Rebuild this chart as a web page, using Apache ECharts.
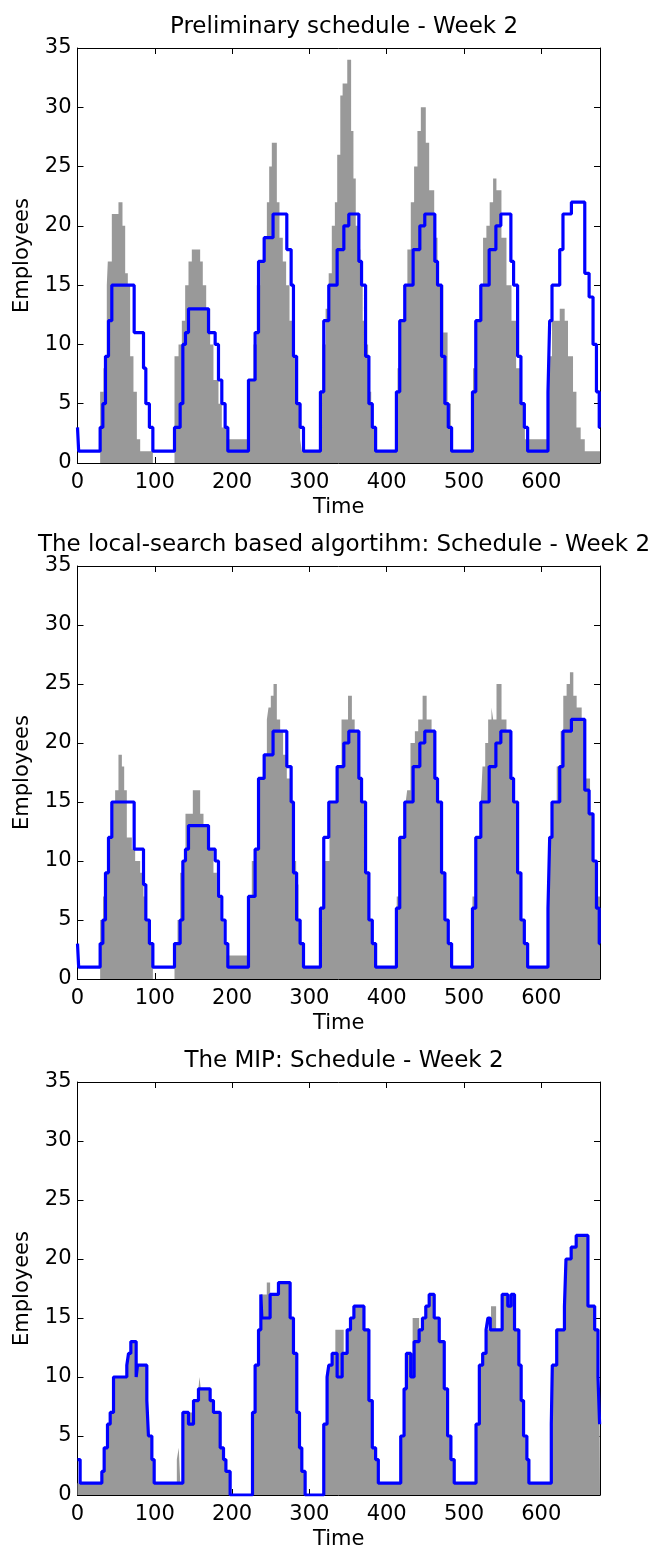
<!DOCTYPE html>
<html><head><meta charset="utf-8">
<script src="https://cdn.jsdelivr.net/npm/echarts@6/dist/echarts.min.js"></script>
<style>html,body{margin:0;padding:0;background:#fff}#c{width:651px;height:1553px}</style>
</head><body><div id="c"></div>
<script>
const X_MAX = 676;
const Y_MAX = 35;
const titles = [
  'Preliminary schedule - Week 2',
  'The local-search based algortihm: Schedule - Week 2',
  'The MIP: Schedule - Week 2'
];
const xName = 'Time';
const yName = 'Employees';

// step breakpoints [time, value]: value holds from this time until the next breakpoint
// blue curve, panels 1 and 2 (identical in the picture)
const shiftPlan = [
  [0,3],[1.5,1],
  [29.3,3],[32.8,5],[36.2,9],[40.1,12],[44.4,15],[73.3,11],[85.4,8],[88.4,5],[93,3],[97.5,1],
  [125.5,3],[132.8,5],[136.3,10],[139.7,11],[143.6,13],[169.5,11],[178.1,10],[182.4,7],[186.7,5],[191,3],[194.5,1],
  [221.2,7],[229.8,11],[234.2,17],[241.5,19],[253,21],[270.8,18],[276.4,15],[279.4,9],[283.5,5],[288,3],[292.4,1],
  [314.3,6],[318.6,12],[325.1,15],[335.9,18],[344.6,20],[351,21],[364,17],[367.5,15],[372.7,9],[377,5],[381.4,3],[385.7,1],
  [412.6,6],[416.9,12],[423.4,15],[434.2,18],[442.9,20],[449.3,21],[462.3,17],[465.8,15],[471,9],[475.3,5],[479.7,3],[484,1],
  [511,6],[515.3,12],[521.8,15],[532.6,18],[541.3,20],[547.7,21],[560.7,17],[564.2,15],[569.4,9],[573.7,5],[578.1,3],[582.4,1],
  [608.7,6],[610.9,12],[613.9,15],[623.9,18],[628.1,21],[639,22],[656.3,16],[661.9,14],[667,10],[671.4,6],[675,3]
];
// gray, panel 1
const demandPre = [
  [0,0],[29.3,6],[33.6,8],[37.9,15],[39.2,17],[44.4,21],[53,22],[58.2,20],[61.7,16],[65.1,15],[68.1,9],[72.4,6],[76.8,2],[81.1,1],[97.5,0],
  [125.5,9],[130.7,10],[135,12],[139.3,15],[143.6,17],[147.9,18],[158.7,17],[162.1,15],[166.5,13],[171.6,10],[175.9,7],[182.4,5],[186.7,3],[193.2,2],
  [221.2,7],[227.7,10],[232,15],[236.3,17],[240.6,19],[245,22],[248,25],[251.4,27],[257.9,22],[261.3,19],[265.6,17],[269.9,15],[274.3,12],[278.6,9],[283.7,5],[288.1,2],[290.2,1],
  [314,6],[317,10],[321,13],[325,16],[329,20],[333,22],[336,26],[340,31],[343,32],[349,34],[354,28],[357,24],[360,20],[363,18],[366,15],[369,12],[372,10],[376,6],[380,3],[384,2],[387,1],
  [414,8],[418.2,12],[422.5,15],[426.8,18],[431.2,22],[435.5,25],[439.8,28],[444.2,30],[450.6,27],[455,23],[461.5,19],[465.8,15],[473.2,11],[478.8,5],[483.1,2],[485.3,1],
  [511.7,8],[516.1,12],[520.4,15],[524.7,19],[529,20],[533.3,22],[537.7,24],[542,23],[548.5,19],[555,15],[561.5,12],[567.5,8],[574.5,5],[578.8,2],
  [608.7,9],[613.9,12],[623.9,13],[630.3,12],[634.6,9],[641.1,6],[645.5,3],[651,2],[656.3,1]
];
// gray, panel 2
const demandLS = [
  [0,0],[29.3,5],[33,7],[35.8,9],[38.8,12],[44.4,15],[48.7,16],[53,19],[57.4,18],[60.4,16],[63.8,12],[70.3,11],[74.6,10],[81.1,9],[85.4,7],[88.4,5],[93,3],[97.5,0],
  [125.5,3],[129.4,5],[132.8,9],[136.3,10],[139.7,14],[149.2,16],[158.7,14],[163,13],[169.5,11],[175.9,9],[180.3,7],[184.6,5],[188.9,3],[193.2,2],
  [221.2,7],[225.5,10],[229.8,11],[234.2,17],[241.5,19],[245,22],[247.1,23],[250.1,24],[253.6,25],[257.9,22],[262.2,21],[266,19],[270.8,17],[276.4,15],[279.4,10],[282.9,8],[285.9,5],[289.4,3],[292.4,1],
  [313,6],[319,10],[326,15],[337,18],[341.6,22],[350,24],[355,22],[358.6,21],[365,17],[368.5,15],[373,9],[377,5],[381.4,3],[385.7,1],
  [413,7],[417.7,12],[424.6,15],[426.5,16],[430.8,20],[436.5,21],[440.8,22],[446.5,24],[451.7,22],[458.1,21],[462.4,17],[466,15],[471,9],[475.3,5],[479.7,3],[484,1],
  [511,7],[515.3,12],[521.8,15],[524,18],[527.5,20],[531.3,22],[535.6,23],[537.8,22],[542.1,25],[548.6,22],[555,21],[560.7,17],[564.2,15],[569.4,9],[573.7,5],[578.1,3],[582.4,1],
  [608.7,7],[611,12],[614,15],[620,18],[625,21],[628.5,24],[632.8,25],[637.1,26],[641.5,24],[645.8,23],[652.3,22],[657.5,17],[663.1,14],[667.4,10],[670.9,7]
];
// blue curve, panel 3
const schedMIP = [
  [0,3],[3.4,1],
  [31.5,2],[34.5,4],[38.8,6],[42.3,7],[46.6,10],[63.8,11],[66,12],[69,13],[75.9,10],[77.6,11],[89.7,8],[91.8,5],[96.2,3],[99.2,1],
  [136.3,7],[143.6,6],[150.1,8],[156.5,9],[171.6,8],[175.9,7],[184.6,4],[188.9,3],[192,2],[197.5,0],
  [226.4,7],[229.8,11],[234.2,14],[237.2,17],[238.5,15],[249.2,17],[260,18],[275.1,15],[279.4,12],[283.7,7],[287.2,4],[290.2,2],[294.5,0],
  [318.6,6],[322.9,10],[325.1,11],[329.4,12],[335.9,10],[342.4,12],[348.9,14],[353.2,15],[357.6,16],[370.6,14],[377,8],[381.4,4],[385.7,3],[389.2,1],
  [418.2,5],[422.5,9],[425.5,12],[431.2,10],[435.5,13],[442,14],[446.3,15],[450.6,16],[455,17],[461.5,15],[468,13],[474.5,9],[478.8,5],[483.1,3],[487.4,1],
  [515.6,6],[519.9,11],[524.2,12],[528.6,14],[531,15],[534,14],[549.4,17],[556.7,16],[561,17],[565.4,14],[571,11],[574,8],[577.1,5],[581.4,3],[584,1],
  [613,6],[614.3,11],[620,14],[630,16],[632,20],[638.7,21],[645.2,22],[660.4,16],[669.1,14],[673.4,10],[675.5,6]
];
// gray, panel 3
const demandMIP = [
  [0,1],[31.5,2],[34.5,4],[38.8,6],[42.3,7],[46.6,10],[63.8,11],[66,12],[69,13],[75.9,10],[77.6,11],[89.7,8],[91.8,5],[96.2,3],[99.2,1],[128.5,3],[131,4],[133,1],
  [136.3,7],[150.1,8],[156.5,9],[157.8,10],[159.5,9],[171.6,8],[175.9,7],[184.6,4],[188.9,3],[192,2],[197.5,0],
  [226.4,7],[229.8,11],[234.2,14],[237.2,17],[244.9,18],[249.2,17],[260,18],[275.1,15],[279.4,12],[283.7,7],[287.2,4],[290.2,2],[294.5,0],
  [318.6,6],[322.9,10],[325.1,11],[329.4,12],[333.6,14],[344.4,12],[348.9,14],[353.2,15],[357.6,16],[370.6,14],[377,8],[381.4,4],[385.7,3],[389.2,1],
  [418.2,5],[422.5,9],[425.5,12],[433.6,15],[442,14],[446.3,15],[450.6,16],[455,17],[461.5,15],[468,13],[474.5,9],[478.8,5],[483.1,3],[487.4,1],
  [515.6,6],[519.9,11],[524.2,12],[528.6,14],[535,16],[541.6,14],[549.4,17],[556.7,16],[561,17],[565.4,14],[571,11],[574,8],[577.1,5],[581.4,3],[584,1],
  [613,6],[614.3,11],[620,14],[630,16],[632,20],[638.7,21],[645.2,22],[660.4,16],[669.1,14],[673.4,10],[675.5,6]
];

const panels = [
  {gray: demandPre, blue: shiftPlan},
  {gray: demandLS, blue: shiftPlan},
  {gray: demandMIP, blue: schedMIP}
];
const gridBoxes = [
  {left: 77.5, top: 48, width: 522.5, height: 415},
  {left: 77.5, top: 566, width: 522.5, height: 413},
  {left: 77.5, top: 1082, width: 522.5, height: 413}
];
const titleTops = [11, 529, 1045];

function closeStep(pairs) {
  const d = pairs.map(p => [p[0], p[1]]);
  d.push([X_MAX, pairs[pairs.length - 1][1]]);
  return d;
}

const FONT = 'DejaVu Sans';
const lineCol = '#000';
const option = {
  animation: false,
  backgroundColor: '#fff',
  title: titles.map((t, i) => ({
    text: t, left: 339, top: titleTops[i], textAlign: 'center',
    textStyle: {fontFamily: FONT, fontSize: 23, fontWeight: 'normal', color: '#000'}
  })),
  grid: gridBoxes.map(g => Object.assign({containLabel: false}, g)),
  xAxis: [],
  yAxis: [],
  series: []
};
gridBoxes.forEach((g, i) => {
  const common = {type: 'value', min: 0, max: X_MAX, interval: 100, gridIndex: i,
    axisLine: {show: true, onZero: false, lineStyle: {color: lineCol, width: 1}},
    axisTick: {show: true, inside: true, length: 6, lineStyle: {color: lineCol}},
    splitLine: {show: false}};
  option.xAxis.push(Object.assign({}, common, {
    position: 'bottom', name: xName, nameLocation: 'middle', nameGap: 34,
    nameTextStyle: {fontFamily: FONT, fontSize: 21, color: '#000'},
    axisLabel: {fontFamily: FONT, fontSize: 21, color: '#000', margin: 9, showMaxLabel: false}
  }));
  option.xAxis.push(Object.assign({}, common, {position: 'top', axisLabel: {show: false}}));
  const ycommon = {type: 'value', min: 0, max: Y_MAX, interval: 5, gridIndex: i,
    axisLine: {show: true, onZero: false, lineStyle: {color: lineCol, width: 1}},
    axisTick: {show: true, inside: true, length: 6, lineStyle: {color: lineCol}},
    splitLine: {show: false}};
  option.yAxis.push(Object.assign({}, ycommon, {
    position: 'left', name: yName, nameLocation: 'middle', nameGap: 44, nameRotate: 90,
    nameTextStyle: {fontFamily: FONT, fontSize: 21, color: '#000'},
    axisLabel: {fontFamily: FONT, fontSize: 21, color: '#000', margin: 6}
  }));
  option.yAxis.push(Object.assign({}, ycommon, {position: 'right', axisLabel: {show: false}}));
  option.series.push({
    type: 'line', step: 'end', xAxisIndex: 2 * i, yAxisIndex: 2 * i,
    data: closeStep(panels[i].gray), symbol: 'none', silent: true,
    lineStyle: {width: 0, color: '#999999'}, itemStyle: {color: '#999999'},
    areaStyle: {color: '#999999', opacity: 1}, z: 1
  });
  option.series.push({
    type: 'line', step: 'end', xAxisIndex: 2 * i, yAxisIndex: 2 * i,
    data: closeStep(panels[i].blue), symbol: 'none', silent: true,
    lineStyle: {width: 3.2, color: '#0000ff'}, itemStyle: {color: '#0000ff'}, z: 3
  });
});
const chart = echarts.init(document.getElementById('c'), null, {renderer: 'canvas'});
chart.setOption(option);
</script></body></html>
